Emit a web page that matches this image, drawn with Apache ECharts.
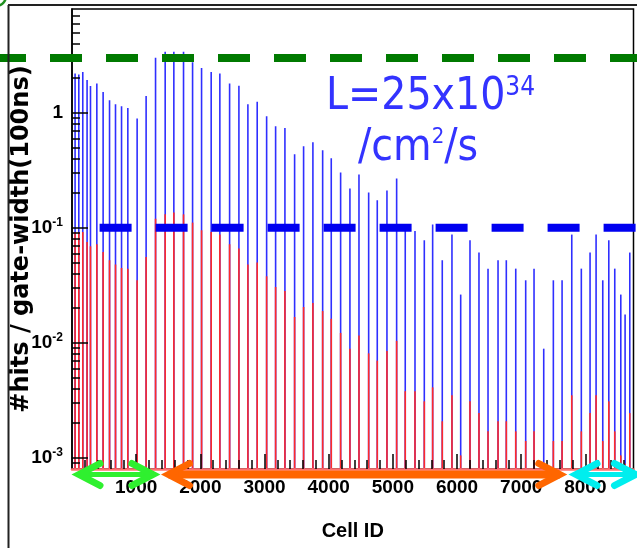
<!DOCTYPE html>
<html>
<head>
<meta charset="utf-8">
<script src="https://cdn.jsdelivr.net/npm/echarts@6/dist/echarts.min.js"></script>
<style>
  html, body { margin: 0; padding: 0; background: #fff; }
  #chart { width: 637px; height: 548px; }
</style>
</head>
<body>
<div id="chart"></div>
<script>
// Cell IDs of the sampled cells
const cellIds = [
  48, 106, 168, 235, 288, 387, 485, 585, 678, 772, 870, 1015, 1155, 1302,
  1452, 1587, 1738, 1879, 2019, 2169, 2304, 2456, 2601, 2741, 2886, 3033,
  3173, 3318, 3469, 3609, 3754, 3906, 4040, 4186, 4331, 4472, 4623, 4757,
  4908, 5059, 5193, 5345, 5490, 5620, 5770, 5921, 6057, 6202, 6342, 6483,
  6639, 6768, 6915, 7070, 7200, 7351, 7501, 7637, 7788, 7937, 8073, 8167,
  8271, 8365, 8458, 8552, 8619, 8692
];
// #hits per gate width (100 ns), all hits
const hitsAll = [
  2.20, 2.16, 2.27, 1.93, 1.71, 1.80, 1.52, 1.29, 1.19, 1.14, 1.10, 0.894, 1.40, 3.01,
  3.40, 3.40, 3.40, 2.76, 2.46, 2.27, 2.20, 1.80, 1.72, 1.19, 1.25, 0.936,
  0.766, 0.740, 0.437, 0.513, 0.556, 0.473, 0.403, 0.303, 0.220, 0.291, 0.203, 0.174,
  0.211, 0.269, 0.097, 0.094, 0.078, 0.107, 0.0523, 0.0874, 0.0263, 0.078, 0.061, 0.0442,
  0.0523, 0.0523, 0.0442, 0.035, 0.0442, 0.0089, 0.035, 0.035, 0.0874, 0.0442, 0.061, 0.0874,
  0.035, 0.078, 0.0442, 0.0263, 0.0176, 0.061
];
// #hits per gate width (100 ns), selected component
const hitsSel = [
  0.092, 0.092, 0.092, 0.0754, 0.0691, 0.072, 0.0617, 0.0523, 0.048, 0.0448, 0.0442, 0.035, 0.0558, 0.120,
  0.131, 0.136, 0.131, 0.111, 0.0953, 0.092, 0.0874, 0.072, 0.066, 0.048, 0.0499, 0.0379,
  0.0306, 0.0282, 0.0168, 0.0205, 0.0222, 0.0189, 0.0162, 0.0122, 0.0089, 0.0116, 0.0081, 0.0070,
  0.0085, 0.0104, 0.0038, 0.0038, 0.0031, 0.0041, 0.00208, 0.0035, 0.00105, 0.0031, 0.00245, 0.0017,
  0.00208, 0.00208, 0.0017, 0.0014, 0.0017, null, 0.0014, 0.0014, 0.0035, 0.0017, 0.00245, 0.0035,
  0.0014, 0.0031, 0.0017, 0.00105, 0.00089, 0.00245
];

// Reference levels
const upperLevel = 3;
const lowerLevel = 0.1;
const lowerLevelFrom = 430;

// Detector regions along Cell ID
const regionStart = [0, 1395, 7745];
const regionEnd = [1370, 7710, 8890];

// Axis ranges and ticks
const xMin = 0, xMax = 8750, xStep = 1000, xMinorStep = 200;
const yMin = 8e-4, yMax = 8;
const xTickLabels = [1000, 2000, 3000, 4000, 5000, 6000, 7000, 8000];

const xMinorTicks = [];
for (let v = xMinorStep; v < xMax; v += xMinorStep) if (v % xStep !== 0) xMinorTicks.push(v);
const yMinorTicks = [];
for (let k = -4; k <= 0; k++) {
  for (let m = 2; m <= 9; m++) {
    const v = Number((m * Math.pow(10, k)).toPrecision(3));
    if (v > yMin && v < yMax) yMinorTicks.push(v);
  }
}

const SANS = "'Liberation Sans',Arial,sans-serif";
const COND = "'DejaVu Sans Condensed','Liberation Sans',sans-serif";
const regionColors = ['#2ff02f', '#ff6600', '#00eeee'];
const regionShaft = [5, 8, 5];

const chart = echarts.init(document.getElementById('chart'), null, { renderer: 'canvas' });

function spikeSeries(values, color, z) {
  return {
    type: 'custom',
    xAxisIndex: 0,
    yAxisIndex: 0,
    clip: true,
    z: z,
    data: cellIds.map((c, i) => [c, values[i] == null ? '-' : values[i]]),
    renderItem(params, api) {
      const v = api.value(1);
      if (!(v > 0)) return null;
      const top = api.coord([api.value(0), v]);
      const base = api.coord([api.value(0), yMin]);
      return {
        type: 'line',
        shape: { x1: top[0], y1: top[1], x2: base[0], y2: base[1] },
        style: { stroke: color, lineWidth: 1.6 }
      };
    }
  };
}

function levelSeries(level, from, color, dashOffset) {
  return {
    type: 'custom',
    xAxisIndex: 0,
    yAxisIndex: 0,
    clip: false,
    z: 6,
    data: [[from == null ? xMin : from, level]],
    renderItem(params, api) {
      const p = api.coord([api.value(0), api.value(1)]);
      const x1 = from == null ? 0 : p[0];
      return {
        type: 'line',
        shape: { x1: x1, y1: p[1], x2: api.getWidth(), y2: p[1] },
        style: { stroke: color, lineWidth: 8, lineDash: [32, 24], lineDashOffset: dashOffset }
      };
    }
  };
}

const option = {
  animation: false,
  backgroundColor: '#ffffff',
  grid: {
    left: 72, right: 3.5, top: 9, bottom: 79,
    containLabel: false, outerBoundsMode: 'none',
    show: true, borderColor: '#000', borderWidth: 1.5, backgroundColor: 'transparent'
  },
  xAxis: [
    {
      type: 'value', min: xMin, max: xMax, interval: xStep, z: 5,
      name: 'Cell ID', nameLocation: 'middle', nameGap: 52, nameMoveOverlap: false,
      nameTextStyle: { fontFamily: SANS, fontWeight: 'bold', fontSize: 20, color: '#000' },
      axisLine: { show: true, lineStyle: { color: '#ff7070', width: 2.5 } },
      axisTick: { show: true, inside: true, length: 15, lineStyle: { color: '#000', width: 1.5 } },
      axisLabel: {
        show: true, margin: 9, showMinLabel: false, showMaxLabel: false,
        fontFamily: SANS, fontWeight: 'bold', fontSize: 19, color: '#000',
        formatter: v => (xTickLabels.indexOf(v) >= 0 ? String(v) : '')
      },
      splitLine: { show: false }
    },
    {
      type: 'value', min: xMin, max: xMax, z: 5, position: 'bottom',
      axisLine: { show: false },
      axisTick: { show: true, inside: true, length: 9, customValues: xMinorTicks, lineStyle: { color: '#000', width: 1.5 } },
      axisLabel: { show: false },
      splitLine: { show: false }
    }
  ],
  yAxis: [
    {
      type: 'log', logBase: 10, min: yMin, max: yMax, z: 5,
      name: '#hits / gate-width(100ns)', nameLocation: 'middle', nameGap: 38, nameRotate: 90,
      nameMoveOverlap: false,
      nameTextStyle: { fontFamily: "'DejaVu Sans',sans-serif", fontWeight: 'bold', fontSize: 24, color: '#000' },
      axisLine: { show: true, lineStyle: { color: '#000', width: 1.5 } },
      axisTick: { show: true, inside: true, length: 16, lineStyle: { color: '#000', width: 1.5 } },
      axisLabel: {
        show: true, margin: 9, showMinLabel: false, showMaxLabel: false,
        fontFamily: SANS, fontWeight: 'bold', fontSize: 19, color: '#000', lineHeight: 23,
        formatter: v => {
          const k = Math.round(Math.log10(v));
          return k === 0 ? '1' : '10{sup|' + k + '}';
        },
        rich: {
          sup: { fontFamily: SANS, fontWeight: 'bold', fontSize: 12, lineHeight: 12, verticalAlign: 'top', color: '#000' }
        }
      },
      splitLine: { show: false }
    },
    {
      type: 'log', logBase: 10, min: yMin, max: yMax, z: 5, position: 'left',
      axisLine: { show: false },
      axisTick: { show: true, inside: true, length: 8, customValues: yMinorTicks, lineStyle: { color: '#000', width: 1.5 } },
      axisLabel: { show: false },
      splitLine: { show: false }
    }
  ],
  graphic: [
    { type: 'line', shape: { x1: 8.5, y1: 5, x2: 8.5, y2: 548 }, style: { stroke: '#222', lineWidth: 2 }, z: 10 },
    { type: 'line', shape: { x1: 8, y1: 5, x2: 637, y2: 5 }, style: { stroke: '#222', lineWidth: 2 }, z: 10 },
    { type: 'arc', shape: { cx: -4, cy: -4, r: 10, startAngle: 0, endAngle: Math.PI / 2 }, style: { stroke: '#1f8f1f', lineWidth: 2.5, fill: null }, z: 10 },
    {
      type: 'text', left: 326, top: 75, z: 20,
      style: {
        text: 'L=25x10{sup|34}', fill: '#3333ff',
        fontFamily: COND, fontSize: 44, lineHeight: 46,
        rich: { sup: { fontFamily: COND, fontSize: 26, lineHeight: 28, verticalAlign: 'top', fill: '#3333ff' } }
      }
    },
    {
      type: 'text', left: 358, top: 126, z: 20,
      style: {
        text: '/cm{sup|2}/s', fill: '#3333ff',
        fontFamily: COND, fontSize: 44, lineHeight: 46,
        rich: { sup: { fontFamily: COND, fontSize: 22, lineHeight: 34, verticalAlign: 'top', fill: '#3333ff' } }
      }
    }
  ],
  series: [
    spikeSeries(hitsAll, '#2f2fff', 2),
    spikeSeries(hitsSel, '#ff2a2a', 3),
    levelSeries(upperLevel, null, '#007a00', 6),
    levelSeries(lowerLevel, lowerLevelFrom, '#0000f0', 0),
    {
      type: 'custom',
      xAxisIndex: 0,
      yAxisIndex: 0,
      clip: false,
      z: 8,
      data: regionStart.map((s, i) => [s, regionEnd[i]]),
      renderItem(params, api) {
        const i = params.dataIndex;
        const a = api.coord([api.value(0), yMin]);
        const b = api.coord([api.value(1), yMin]);
        const y = a[1] + 5.5;
        const col = regionColors[i];
        const hx = 21, hy = 11, inset = 7;
        const ax = a[0] + inset, bx = b[0] - inset;
        const head = { stroke: col, lineWidth: 7, lineCap: 'round', lineJoin: 'miter', fill: null };
        return {
          type: 'group',
          children: [
            { type: 'line', shape: { x1: ax, y1: y, x2: bx, y2: y }, style: { stroke: col, lineWidth: regionShaft[i] } },
            { type: 'polyline', shape: { points: [[ax + hx, y - hy], [ax, y], [ax + hx, y + hy]] }, style: head },
            { type: 'polyline', shape: { points: [[bx - hx, y - hy], [bx, y], [bx - hx, y + hy]] }, style: head }
          ]
        };
      }
    }
  ]
};

chart.setOption(option);
</script>
</body>
</html>
